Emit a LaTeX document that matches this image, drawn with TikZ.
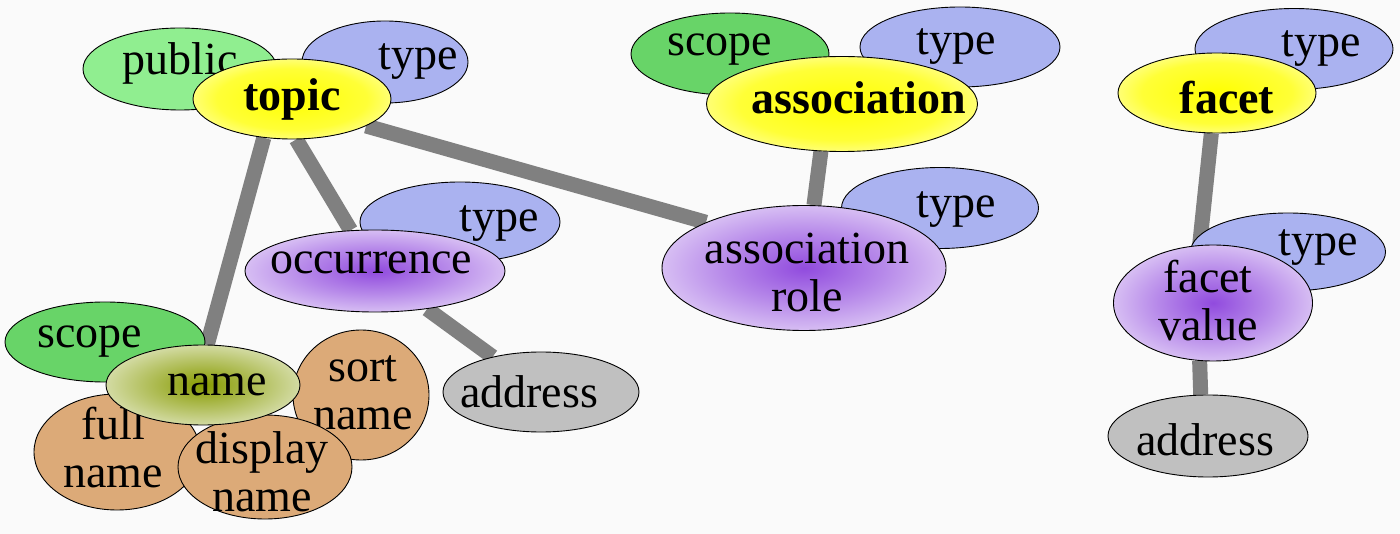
\documentclass[tikz,border=0pt]{standalone}
\usepackage{fontspec}
\setmainfont{Liberation Serif}
\usetikzlibrary{shapes.geometric,backgrounds}

\definecolor{bgfill}{RGB}{250,250,250}
\definecolor{pubfill}{RGB}{144,238,144}
\definecolor{scopefill}{RGB}{104,212,104}
\definecolor{typefill}{RGB}{170,178,240}
\definecolor{tanfill}{RGB}{220,170,120}
\definecolor{addrfill}{RGB}{192,192,192}
\definecolor{linkgray}{RGB}{128,128,128}
\definecolor{yellowcore}{RGB}{255,255,0}
\definecolor{yellowedge}{RGB}{255,255,220}
\definecolor{purplecore}{RGB}{145,75,222}
\definecolor{purpleedge}{RGB}{244,238,252}
\definecolor{olivecore}{RGB}{135,155,0}
\definecolor{oliveedge}{RGB}{242,245,230}

\pgfdeclareradialshading{yellowglow}{\pgfpoint{0bp}{0bp}}{color(0bp)=(yellowcore); color(19bp)=(yellowcore!75!yellowedge); color(35bp)=(yellowedge); color(75bp)=(yellowedge)}
\pgfdeclareradialshading{purpleglow}{\pgfpoint{0bp}{0bp}}{color(0bp)=(purplecore); color(14bp)=(purplecore!62!purpleedge); color(35bp)=(purpleedge); color(75bp)=(purpleedge)}
\pgfdeclareradialshading{oliveglow}{\pgfpoint{0bp}{0bp}}{color(0bp)=(olivecore); color(16bp)=(olivecore!55!oliveedge); color(35bp)=(oliveedge); color(75bp)=(oliveedge)}

\tikzset{
  blob/.style={ellipse, draw=black, line width=0.9pt, inner sep=0pt},
  dims/.style 2 args={minimum width=#1pt, minimum height=#2pt},
  pubblob/.style={blob, fill=pubfill},
  scopeblob/.style={blob, fill=scopefill},
  typeblob/.style={blob, fill=typefill},
  partblob/.style={blob, fill=tanfill},
  addrblob/.style={blob, fill=addrfill},
  mainblob/.style={blob, shade, shading=yellowglow},
  subblob/.style={blob, shade, shading=purpleglow},
  nameblob/.style={blob, shade, shading=oliveglow},
  every label/.style={align=center},
  link/.style={line width=15pt, draw=linkgray}
}

\begin{document}
\begin{tikzpicture}[x=1pt, y=-1pt, font=\fontsize{46}{48}\selectfont]
\useasboundingbox (0,0) rectangle (1400,534);
\begin{scope}[on background layer]
\fill[bgfill] (0,0) rectangle (1400,534);
\end{scope}

% topic
\node[pubblob, dims={194}{82}, label={[shift={(0,-6)}]center:public}] (pub) at (180,69) {};
\node[typeblob, dims={166}{82}, label={[shift={(33,0)}]center:type}] (ttype) at (385,62) {};
\node[mainblob, dims={198}{80}, label={center:\textbf{topic}}] (topic) at (292,99) {};

% occurrence
\node[typeblob, dims={200}{80}, label={[shift={(39,2)}]center:type}] (otype) at (460,222) {};
\node[subblob, dims={260}{82}, label={[shift={(-4,-8)}]center:occurrence}] (occ) at (375,271) {};
\node[addrblob, dims={196}{80}, label={[shift={(-12,0)}]center:address}] (oaddr) at (541,392) {};

% name
\node[scopeblob, dims={200}{80}, label={[shift={(-15,0)}]center:scope}] (nscope) at (105,342) {};
\node[partblob, dims={166}{116}, label={[shift={(-4,-4)}]center:full\\name}] (fullname) at (117,452) {};
\node[partblob, dims={136}{130}, label={[shift={(2,-2)}]center:sort\\name}] (sortname) at (361,395) {};
\node[partblob, dims={174}{104}, label={[shift={(-3,5)}]center:display\\name}] (dispname) at (265,467) {};
\node[nameblob, dims={194}{80}, label={[shift={(14,0)}]center:name}] (name) at (203,385) {};

% association
\node[scopeblob, dims={198}{82}, label={[shift={(-10,-4)}]center:scope}] (ascope) at (730,54) {};
\node[typeblob, dims={200}{80}, label={[shift={(-4,0)}]center:type}] (atype) at (960,47) {};
\node[mainblob, dims={271}{95}, label={[shift={(17,-6)}]center:\textbf{association}}] (assoc) at (842,104) {};
\node[typeblob, dims={197}{81}, label={[shift={(16,2)}]center:type}] (rtype) at (940,208) {};
\node[subblob, dims={284}{125}, label={[shift={(3,4)}]center:association\\role}] (role) at (804,268) {};

% facet
\node[typeblob, dims={198}{81}, label={[shift={(27,0)}]center:type}] (ftype) at (1294,49) {};
\node[mainblob, dims={198}{80}, label={[shift={(10,5)}]center:\textbf{facet}}] (facet) at (1217,93) {};
\node[typeblob, dims={195}{78}, label={[shift={(30,-4)}]center:type}] (vtype) at (1288,252) {};
\node[subblob, dims={199}{116}, label={[shift={(-5,-2)}]center:facet\\value}] (fval) at (1213,303) {};
\node[addrblob, dims={200}{82}, label={[shift={(-3,4)}]center:address}] (faddr) at (1208,436) {};

\begin{scope}[on background layer]
\draw[link] (topic.234) -- (name.84);
\draw[link] (topic.276) -- (occ);
\draw[link] (topic.340) -- (role.155);
\draw[link] (occ) -- (oaddr);
\draw[link] (assoc.246) -- (role.81);
\draw[link] (facet.262) -- (fval.103);
\draw[link] (fval.257) -- (faddr.100);
\end{scope}
\end{tikzpicture}
\end{document}
